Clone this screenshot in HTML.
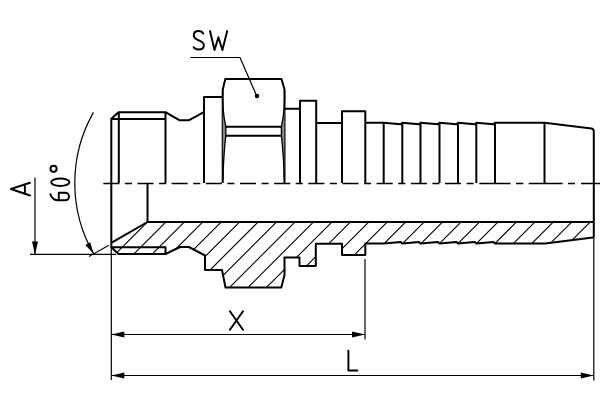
<!DOCTYPE html>
<html><head><meta charset="utf-8"><style>
html,body{margin:0;padding:0;background:#fff;width:600px;height:400px;overflow:hidden}
svg{display:block}
</style></head><body>
<svg width="600" height="400" viewBox="0 0 600 400">
<rect width="600" height="400" fill="#fff"/>
<defs><clipPath id="hc"><path d="M147.5,222 H593.8 V237.5 L593,237.5 L545,243.6 H365.3 V255 H342 V243.8 H315.8 V266 H299.5 V257.5 H284.5 V275 L281.3,287.5 H225.5 L222,270 H205 V255.5 L188.8,247 H180 L165.5,254 H118.5 L111.3,247.2 V242.8 Z"/></clipPath></defs>
<g stroke="#000" stroke-width="1.1" fill="none" clip-path="url(#hc)"><path d="M114.05,200 L14.05,300 M132.50,200 L32.50,300 M150.95,200 L50.95,300 M169.40,200 L69.40,300 M187.85,200 L87.85,300 M206.30,200 L106.30,300 M224.75,200 L124.75,300 M243.20,200 L143.20,300 M261.65,200 L161.65,300 M280.10,200 L180.10,300 M298.55,200 L198.55,300 M317.00,200 L217.00,300 M335.45,200 L235.45,300 M353.90,200 L253.90,300 M372.35,200 L272.35,300 M390.80,200 L290.80,300 M409.25,200 L309.25,300 M427.70,200 L327.70,300 M446.15,200 L346.15,300 M464.60,200 L364.60,300 M483.05,200 L383.05,300 M501.50,200 L401.50,300 M519.95,200 L419.95,300 M538.40,200 L438.40,300 M556.85,200 L456.85,300 M575.30,200 L475.30,300 M593.75,200 L493.75,300 M612.20,200 L512.20,300 M630.65,200 L530.65,300 M649.10,200 L549.10,300 M667.55,200 L567.55,300 M686.00,200 L586.00,300 M704.45,200 L604.45,300 M722.90,200 L622.90,300"/></g>
<g stroke="#000" fill="none" stroke-linejoin="round" stroke-linecap="butt">
<path d="M111.3,183 V118.8 L118.5,112.2 H165.5 V183" stroke-width="2.0" />
<path d="M118.8,112.2 V183" stroke-width="2.0" />
<path d="M111.3,119 H165.5" stroke-width="2.0" />
<path d="M165.5,112.2 L179.7,120.3 H188.7 L203.8,112.2" stroke-width="2.0" />
<path d="M204,183 V97 H222.7" stroke-width="2.0" />
<path d="M222.7,183 V90 L225.3,79 H281.5 L284.5,89.5 V183" stroke-width="2.0" />
<path d="M226,126.7 H281.5" stroke-width="2.0" />
<path d="M226,135.7 H281.5" stroke-width="2.0" />
<path d="M222.7,90 C222,100 223.6,116 225.8,126.7 V135.7 C224.5,147 223.3,165 222.9,180" stroke-width="1.3" fill="#888"/>
<path d="M284.5,90 C285.2,100 283.6,116 281.4,126.7 V135.7 C282.7,147 283.9,165 284.3,180" stroke-width="1.3" fill="#888"/>
<path d="M284.5,108.7 H300 V183" stroke-width="2.0" />
<path d="M300,108.7 V100.7 H316.2 V183" stroke-width="2.0" />
<path d="M316.2,123 H342" stroke-width="2.0" />
<path d="M342,183 V111.2 H365.3 V183" stroke-width="2.0" />
<path d="M365.3,122.8 H383.7 L400.8,124.2 L402.3,122.8 L419.0,124.2 L420.5,122.8 L438.0,124.2 L439.5,122.8 L456.5,124.2 L458.0,122.8 L474.8,124.2 L476.3,122.8 L493.5,124.2 L495.0,122.8 H544.5 L591.5,128.5 Q593.8,129 593.8,131.5 V237.5" stroke-width="2.0" />
<path d="M383.7,123 V183" stroke-width="2.0" />
<path d="M402.3,123 V183" stroke-width="2.0" />
<path d="M420.5,123 V183" stroke-width="2.0" />
<path d="M439.5,123 V183" stroke-width="2.0" />
<path d="M458,123 V183" stroke-width="2.0" />
<path d="M476.3,123 V183" stroke-width="2.0" />
<path d="M495,123 V183" stroke-width="2.0" />
<path d="M544.5,123 V183" stroke-width="2.0" />
<path d="M147.5,183 V222 H593.8" stroke-width="2.0" />
<path d="M147.5,222 L111.3,242.8" stroke-width="2.0" />
<path d="M111.3,183 V247.2 L118.5,254 H165.5 V247.2 H111.3" stroke-width="2.0" />
<path d="M165.5,254 L180,247 H188.8 L205,255.5 V270 H222 L225.5,287.5 H281.3 L284.5,275 V257.5 H299.5 V266 H315.8 V243.8 H342 V255 H365.3 V243.6 H383.7 L400.8,242 L402.3,243.6 L419.0,242 L420.5,243.6 L438.0,242 L439.5,243.6 L456.5,242 L458.0,243.6 L474.8,242 L476.3,243.6 L493.5,242 L495.0,243.6 H545 L593,237.5 H593.8" stroke-width="2.0" />
</g>
<g stroke="#000" fill="none">
<path d="M35,177.4 V254.5" stroke-width="1.2"/>
<path d="M30,254.3 H116" stroke-width="1.2"/>
<path d="M89,256.4 L108.9,245.2" stroke-width="1.2"/>
<path d="M93.46,112.37 A143,143 0 0 0 93.71,254.07" stroke-width="1.2"/>
<path d="M111.3,247 V380" stroke-width="1.2"/>
<path d="M365,259 V339.5" stroke-width="1.2"/>
<path d="M593.8,237.5 V380.5" stroke-width="1.2"/>
<path d="M111.3,334.5 H365" stroke-width="1.2"/>
<path d="M111.3,375.5 H593.8" stroke-width="1.2"/>
<path d="M190.4,57.5 H240 L256.5,95.5" stroke-width="1.2"/>
<path d="M103.3,183.5 H119.4 M124.9,183.5 H131.9 M137.5,183.5 H153.5 M159.1,183.5 H166.1 M171.6,183.5 H187.7 M193.2,183.5 H200.3 M205.8,183.5 H221.9 M227.4,183.5 H234.4 M240.0,183.5 H256.0 M261.6,183.5 H268.6 M274.1,183.5 H290.2 M295.7,183.5 H302.8 M308.3,183.5 H324.4 M329.9,183.5 H336.9 M342.5,183.5 H358.5 M364.1,183.5 H371.1 M376.6,183.5 H392.7 M398.2,183.5 H405.3 M410.8,183.5 H426.9 M432.4,183.5 H439.4 M444.9,183.5 H461.0 M466.6,183.5 H473.6 M479.3,183.5 H510.5 M516.0,183.5 H523.3 M528.7,183.5 H562.7 M568.0,183.5 H575.0 M581.0,183.5 H600.0" stroke-width="1.3"/>
</g>
<g fill="#000" stroke="none">
<path d="M35.00,254.50 L32.00,241.50 L38.00,241.50 Z"/>
<path d="M93.71,254.07 L85.32,245.05 L90.18,242.26 Z"/>
<path d="M111.30,334.50 L124.30,331.50 L124.30,337.50 Z"/>
<path d="M365.00,334.50 L352.00,337.50 L352.00,331.50 Z"/>
<path d="M111.30,375.50 L124.30,372.50 L124.30,378.50 Z"/>
<path d="M593.80,375.50 L580.80,378.50 L580.80,372.50 Z"/>
<circle cx="257" cy="96" r="2.2" fill="#000"/>
</g>
<g stroke="#000" fill="none" stroke-linecap="round" stroke-linejoin="round">
<path d="M203.3,33.6 C202.3,31.8 200.6,31 198.6,31 C195.7,31 193.8,32.9 193.8,35.5 C193.8,41.3 203.8,39.6 203.8,45.2 C203.8,47.9 201.6,49.5 198.7,49.5 C196.3,49.5 194.5,48.6 193.7,47.2" stroke-width="1.95"/>
<path d="M210,31.1 L214.5,50 L218.4,37.2 L222.4,50 L227.2,31.1" stroke-width="1.95"/>
<path d="M229.9,311.2 L243,329.8 M243,311.2 L229.9,329.8" stroke-width="1.95"/>
<path d="M348.4,350.6 V370.4 H357.3" stroke-width="1.95"/>
<path d="M30,182.8 L10.9,189 L30,195.5 M24.9,184.8 V193.4" stroke-width="1.95"/>
<path d="M53.56,168.86 m-3.1,0 a3.1,3.1 0 1,0 6.2,0 a3.1,3.1 0 1,0 -6.2,0" stroke-width="1.95"/>
<path d="M60.3,182.3 m-9.1,0 a9.1,3.7 0 1,0 18.2,0 a9.1,3.7 0 1,0 -18.2,0" stroke-width="1.95"/>
<path d="M58.8,192.8 H65.3 A3.75,3.75 0 0 1 65.3,200.3 H58.8 Z" stroke-width="1.95"/>
<path d="M58.8,200.3 C54.5,200.3 51.5,198 50.4,194.2" stroke-width="1.95"/>
</g>
</svg>
</body></html>
